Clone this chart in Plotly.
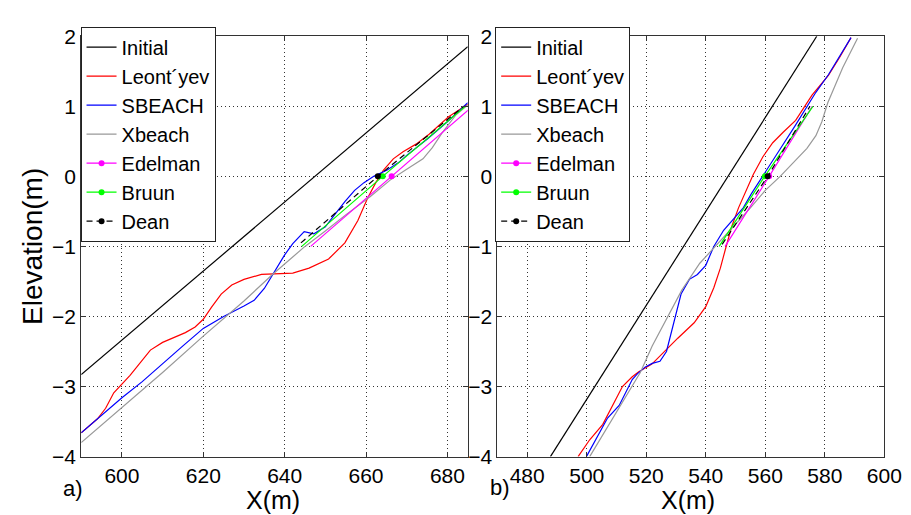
import plotly.graph_objects as go

# ---------------- Data: panel a) ----------------
initial_a_x = [590, 685]
initial_a_y = [-2.83, 1.85]

leont_a_x = [590, 594, 596, 598, 602, 604.8, 607, 610, 613, 615.6, 618, 620, 622, 624.4, 627, 630,
             634.3, 638, 642, 646, 650.8, 654.8, 658, 660.4, 662.4, 664.3, 666.7, 669.1, 672.3,
             675.5, 680.3, 685]
leont_a_y = [-3.66, -3.46, -3.31, -3.09, -2.84, -2.63, -2.48, -2.37, -2.29, -2.23, -2.15, -2.04,
             -1.87, -1.68, -1.55, -1.47, -1.40, -1.39, -1.38, -1.31, -1.18, -0.95, -0.63, -0.31,
             -0.09, 0.09, 0.25, 0.35, 0.46, 0.60, 0.85, 1.03]

sbeach_a_x = [590, 595, 600, 605, 610, 615, 620, 625, 630, 632.5, 635, 637.3, 640, 642, 644.8,
              647.2, 650, 652.4, 654.8, 657.2, 659.5, 661.9, 665.2, 668.3, 670, 675, 680, 685]
sbeach_a_y = [-3.66, -3.41, -3.16, -2.93, -2.67, -2.42, -2.17, -2.0, -1.85, -1.77, -1.6, -1.38,
              -1.12, -0.96, -0.79, -0.82, -0.72, -0.54, -0.36, -0.2, -0.09, 0.0, 0.09, 0.21,
              0.3, 0.53, 0.78, 1.05]

xbeach_a_x = [590, 600, 610, 620, 630, 637, 640, 645, 650, 655, 661, 666, 670, 674, 676.3,
              678.7, 682, 685]
xbeach_a_y = [-3.8, -3.3, -2.8, -2.28, -1.78, -1.4, -1.25, -1.0, -0.78, -0.55, -0.29, -0.05,
              0.1, 0.25, 0.41, 0.62, 0.87, 1.02]

edelman_a_x = [646.4, 666.3, 686.2]
edelman_a_y = [-1.0, 0.0, 1.0]
bruun_a_x = [644.2, 664.1, 684.4]
bruun_a_y = [-1.0, 0.0, 1.0]
dean_a_x = [644.0, 662.9, 684.0]
dean_a_y = [-0.95, 0.0, 1.0]

# ---------------- Data: panel b) ----------------
initial_b_x = [487.8, 577.3]
initial_b_y = [-4.0, 2.0]

leont_b_x = [497.1, 501, 505.4, 509, 512, 515.3, 517.5, 521.9, 524, 526.3, 530.6, 536.1, 540,
             542.7, 544.9, 546.6, 548.7, 551, 553.7, 556, 559.2, 562.5, 566, 570.2, 575.7,
             581.2, 585, 588.8]
leont_b_y = [-4.0, -3.76, -3.54, -3.25, -3.0, -2.86, -2.79, -2.68, -2.59, -2.5, -2.31, -2.09,
             -1.86, -1.59, -1.31, -1.04, -0.72, -0.45, -0.18, 0.03, 0.28, 0.48, 0.63, 0.8,
             1.16, 1.44, 1.7, 1.98]

sbeach_b_x = [499.9, 504.3, 507, 510.9, 515.3, 517, 519.7, 522, 524.6, 526.8, 529, 531.7, 534.5,
              537.2, 540, 542.7, 546, 549.3, 552.6, 555.3, 559.2, 565, 570, 573.5, 577, 581.2,
              585, 588.8]
sbeach_b_y = [-4.0, -3.66, -3.45, -3.27, -2.9, -2.82, -2.72, -2.67, -2.64, -2.5, -2.13, -1.68,
              -1.47, -1.4, -1.27, -1.0, -0.77, -0.61, -0.45, -0.25, 0.0, 0.39, 0.72, 0.96,
              1.2, 1.45, 1.72, 1.98]

xbeach_b_x = [501, 505, 510, 515, 518, 522, 527, 532, 538, 544, 549, 555, 560, 565, 570, 574,
              577, 579, 581, 583.5, 586, 591]
xbeach_b_y = [-4.0, -3.72, -3.36, -3.0, -2.8, -2.42, -2.03, -1.62, -1.24, -0.97, -0.73, -0.45,
              -0.2, 0.0, 0.22, 0.4, 0.58, 0.78, 1.05, 1.3, 1.55, 1.97]

edelman_b_x = [546.5, 561.3, 575.8]
edelman_b_y = [-1.0, 0.0, 1.0]
bruun_b_x = [544.5, 559.8, 576.0]
bruun_b_y = [-1.0, 0.0, 1.0]
dean_b_x = [545.5, 560.8, 575.0]
dean_b_y = [-0.97, 0.0, 1.0]

series_names = ["Initial", "Leont\u00b4yev", "SBEACH", "Xbeach", "Edelman", "Bruun", "Dean"]
x_ticks_a = [600, 620, 640, 660, 680]
x_ticks_b = [480, 500, 520, 540, 560, 580, 600]
y_ticks = [-4, -3, -2, -1, 0, 1, 2]

# ---------------- Styles ----------------
COL = {"Initial": "#000000", "Leont\u00b4yev": "#ff0000", "SBEACH": "#0000ff",
       "Xbeach": "#999999", "Edelman": "#ff00ff", "Bruun": "#00ff00", "Dean": "#000000"}
FONT = "Arial, 'Liberation Sans', Helvetica, sans-serif"
LW = 1.2

fig = go.Figure()

panels = [
    ("x", "y", "legend", [(initial_a_x, initial_a_y), (leont_a_x, leont_a_y), (sbeach_a_x, sbeach_a_y),
                          (xbeach_a_x, xbeach_a_y)],
     [(edelman_a_x, edelman_a_y), (bruun_a_x, bruun_a_y), (dean_a_x, dean_a_y)]),
    ("x2", "y2", "legend2", [(initial_b_x, initial_b_y), (leont_b_x, leont_b_y), (sbeach_b_x, sbeach_b_y),
                             (xbeach_b_x, xbeach_b_y)],
     [(edelman_b_x, edelman_b_y), (bruun_b_x, bruun_b_y), (dean_b_x, dean_b_y)]),
]

for xa, ya, leg, curves, shifts in panels:
    for name, (xs, ys) in zip(series_names[:4], curves):
        fig.add_trace(go.Scatter(x=xs, y=ys, mode="lines", name=name, xaxis=xa, yaxis=ya,
                                 legend=leg, line=dict(color=COL[name], width=LW)))
    for name, (xs, ys) in zip(series_names[4:], shifts):
        dash = "6px,4px" if name == "Dean" else "solid"
        fig.add_trace(go.Scatter(x=xs, y=ys, mode="lines", xaxis=xa, yaxis=ya, showlegend=False,
                                 legend=leg, legendgroup=leg + name,
                                 line=dict(color=COL[name], width=LW, dash=dash)))
        fig.add_trace(go.Scatter(x=[xs[1]], y=[ys[1]], mode="lines+markers", name=name,
                                 xaxis=xa, yaxis=ya, legend=leg, legendgroup=leg + name,
                                 line=dict(color=COL[name], width=LW, dash=dash),
                                 marker=dict(color=COL[name], size=6)))

W, H = 911, 515
axis_common = dict(showline=True, linecolor="#333333", linewidth=1, mirror="ticks",
                   ticks="inside", ticklen=5, tickcolor="#333333", showgrid=True,
                   gridcolor="#333333", griddash="1px,3px", gridwidth=1, zeroline=False,
                   ticklabeloverflow="allow",
                   tickfont=dict(family=FONT, size=21, color="#000000"))

legend_common = dict(xanchor="left", yanchor="top", bgcolor="white",
                     bordercolor="#222222", borderwidth=1,
                     font=dict(family=FONT, size=20, color="black"), tracegroupgap=0)

fig.update_layout(
    width=W, height=H, margin=dict(l=0, r=0, t=0, b=0),
    paper_bgcolor="white", plot_bgcolor="white",
    xaxis=dict(domain=[74.7 / W, 469 / W], range=[590, 685], tickvals=x_ticks_a, anchor="y",
               ticklabelstandoff=0, **axis_common),
    yaxis=dict(domain=[1 - 457 / H, 1 - 17 / H], range=[-4, 2], tickvals=y_ticks, anchor="x", **axis_common),
    xaxis2=dict(domain=[499.3 / W, 894 / W], range=[470, 600], tickvals=x_ticks_b, anchor="y2",
                ticklabelstandoff=0, **axis_common),
    yaxis2=dict(domain=[1 - 457 / H, 1 - 17 / H], range=[-4, 2], tickvals=y_ticks, anchor="x2", **axis_common),
    legend=dict(x=74 / W, y=1 - 7 / H, **legend_common),
    legend2=dict(x=497 / W, y=1 - 7 / H, **legend_common),
    showlegend=True,
)

annots = [
    dict(text="Elevation(m)", x=25 / W, y=1 - 237 / H, textangle=-90, size=28),
    dict(text="X(m)", x=270 / W, y=1 - 502 / H, textangle=0, size=25),
    dict(text="X(m)", x=694 / W, y=1 - 502 / H, textangle=0, size=25),
    dict(text="a)", x=66 / W, y=1 - 490 / H, textangle=0, size=22),
    dict(text="b)", x=502 / W, y=1 - 489 / H, textangle=0, size=22),
]
for a in annots:
    fig.add_annotation(text=a["text"], x=a["x"], y=a["y"], xref="paper", yref="paper",
                       xanchor="center", yanchor="middle", textangle=a["textangle"], showarrow=False,
                       font=dict(family=FONT, size=a["size"], color="black"))

fig.write_html("out.html")
